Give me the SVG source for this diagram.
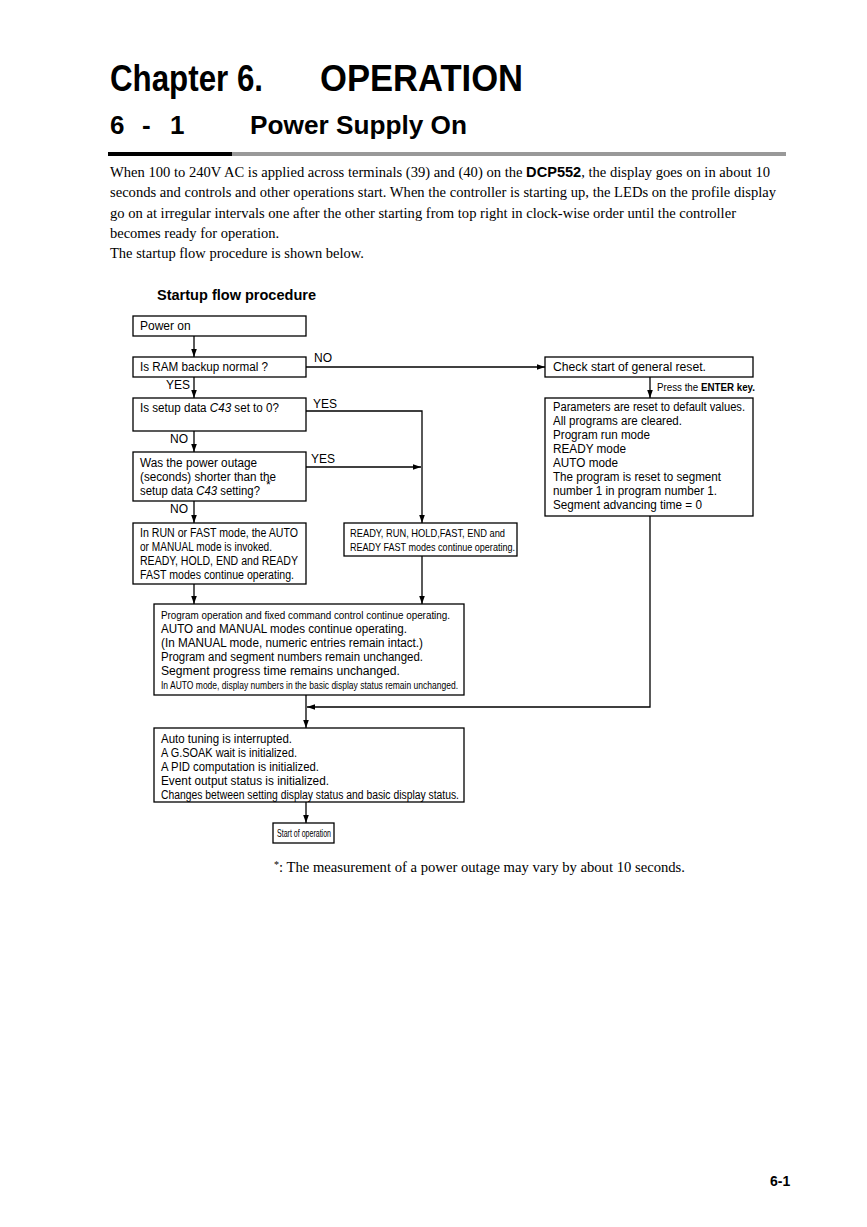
<svg xmlns="http://www.w3.org/2000/svg" width="867" height="1227" viewBox="0 0 867 1227">
<style>
.box{fill:#fff;stroke:#000;stroke-width:1.3}
.t{font-family:"Liberation Sans",Arial,sans-serif;font-size:12px;fill:#000}
.c{font-family:"Liberation Sans",Arial,sans-serif;font-size:11.5px;fill:#000}
.lab{font-family:"Liberation Sans",Arial,sans-serif;font-size:12px;fill:#000}
.body{font-family:"Liberation Serif","Times New Roman",serif;font-size:14.5px;fill:#000}
.h{font-family:"Liberation Sans",Arial,sans-serif;font-weight:bold;fill:#000}
.ln{fill:none;stroke:#000;stroke-width:1.3}
</style>
<defs>
<marker id="ah" viewBox="0 0 10 10" refX="10" refY="5" markerWidth="8" markerHeight="8" markerUnits="userSpaceOnUse" orient="auto">
<path d="M0,1.5 L10,5 L0,8.5 z" fill="#000"/>
</marker>
</defs>
<rect width="867" height="1227" fill="#fff"/>

<text class="h" x="110" y="91" font-size="36" textLength="153" lengthAdjust="spacingAndGlyphs">Chapter 6.</text>
<text class="h" x="320" y="91" font-size="36" textLength="203" lengthAdjust="spacingAndGlyphs">OPERATION</text>
<text class="h" x="110" y="134" font-size="26">6</text>
<text class="h" x="142" y="134" font-size="26">-</text>
<text class="h" x="170" y="134" font-size="26">1</text>
<text class="h" x="250" y="134" font-size="26" textLength="217" lengthAdjust="spacingAndGlyphs">Power Supply On</text>
<rect x="108" y="152" width="124" height="4" fill="#000"/>
<rect x="232" y="152" width="554" height="4" fill="#999"/>

<text class="body" x="110" y="177" textLength="660" lengthAdjust="spacingAndGlyphs">When 100 to 240V AC is applied across terminals (39) and (40) on the <tspan font-family="Liberation Sans,Arial,sans-serif" font-weight="bold">DCP552</tspan>, the display goes on in about 10</text>
<text class="body" x="110" y="197" textLength="666" lengthAdjust="spacingAndGlyphs">seconds and controls and other operations start. When the controller is starting up, the LEDs on the profile display</text>
<text class="body" x="110" y="218" textLength="626" lengthAdjust="spacingAndGlyphs">go on at irregular intervals one after the other starting from top right in clock-wise order until the controller</text>
<text class="body" x="110" y="238">becomes ready for operation.</text>
<text class="body" x="110" y="258">The startup flow procedure is shown below.</text>

<text class="h" x="157" y="300" font-size="14" textLength="159" lengthAdjust="spacingAndGlyphs">Startup flow procedure</text>

<g id="connectors">
<line class="ln" x1="194" y1="336" x2="194" y2="357" marker-end="url(#ah)"/>
<line class="ln" x1="194" y1="377" x2="194" y2="398" marker-end="url(#ah)"/>
<line class="ln" x1="194" y1="431" x2="194" y2="452" marker-end="url(#ah)"/>
<line class="ln" x1="194" y1="501" x2="194" y2="523" marker-end="url(#ah)"/>
<line class="ln" x1="306" y1="367" x2="545" y2="367" marker-end="url(#ah)"/>
<line class="ln" x1="650" y1="377" x2="650" y2="398" marker-end="url(#ah)"/>
<polyline class="ln" points="306,411 422,411 422,523" marker-end="url(#ah)"/>
<line class="ln" x1="306" y1="467" x2="421" y2="467" marker-end="url(#ah)"/>
<line class="ln" x1="194" y1="584" x2="194" y2="604" marker-end="url(#ah)"/>
<line class="ln" x1="422" y1="556" x2="422" y2="604" marker-end="url(#ah)"/>
<polyline class="ln" points="650,516 650,707 307,707" marker-end="url(#ah)"/>
<line class="ln" x1="306" y1="695" x2="306" y2="728" marker-end="url(#ah)"/>
<line class="ln" x1="306" y1="802" x2="306" y2="823" marker-end="url(#ah)"/>
<text class="lab" x="314" y="362">NO</text>
<text class="lab" x="166" y="389">YES</text>
<text class="lab" x="313" y="408">YES</text>
<text class="lab" x="170" y="443">NO</text>
<text class="lab" x="311" y="463">YES</text>
<text class="lab" x="170" y="513">NO</text>
<text class="c" x="657" y="391" font-size="11" textLength="98" lengthAdjust="spacingAndGlyphs">Press the <tspan font-weight="bold">ENTER key.</tspan></text>
</g>

<g id="power-on">
<rect class="box" x="133" y="316" width="173" height="20"/>
<text class="t" x="140" y="330">Power on</text>
</g>
<g id="ram-backup">
<rect class="box" x="133" y="357" width="173" height="20"/>
<text class="t" x="140" y="371" textLength="128" lengthAdjust="spacingAndGlyphs">Is RAM backup normal ?</text>
</g>
<g id="check-reset">
<rect class="box" x="545" y="357" width="208" height="20"/>
<text class="t" x="553" y="371" textLength="153" lengthAdjust="spacingAndGlyphs">Check start of general reset.</text>
</g>
<g id="setup-c43">
<rect class="box" x="133" y="398" width="173" height="33"/>
<text class="t" x="140" y="412" textLength="139" lengthAdjust="spacingAndGlyphs">Is setup data <tspan font-style="italic">C43</tspan> set to 0?</text>
</g>
<g id="params-reset">
<rect class="box" x="545" y="398" width="208" height="118"/>
<text class="t" x="553" y="411" textLength="192" lengthAdjust="spacingAndGlyphs">Parameters are reset to default values.</text>
<text class="t" x="553" y="425" textLength="129" lengthAdjust="spacingAndGlyphs">All programs are cleared.</text>
<text class="t" x="553" y="439" textLength="97" lengthAdjust="spacingAndGlyphs">Program run mode</text>
<text class="t" x="553" y="453" textLength="73" lengthAdjust="spacingAndGlyphs">READY mode</text>
<text class="t" x="553" y="467" textLength="65" lengthAdjust="spacingAndGlyphs">AUTO mode</text>
<text class="t" x="553" y="481" textLength="168" lengthAdjust="spacingAndGlyphs">The program is reset to segment</text>
<text class="t" x="553" y="495" textLength="164" lengthAdjust="spacingAndGlyphs">number 1 in program number 1.</text>
<text class="t" x="553" y="509" textLength="149" lengthAdjust="spacingAndGlyphs">Segment advancing time = 0</text>
</g>
<g id="power-outage">
<rect class="box" x="133" y="452" width="173" height="49"/>
<text class="t" x="140" y="467" textLength="117" lengthAdjust="spacingAndGlyphs">Was the power outage</text>
<text class="t" x="140" y="481" textLength="136" lengthAdjust="spacingAndGlyphs">(seconds) shorter than the</text>
<text class="t" x="140" y="495" textLength="120" lengthAdjust="spacingAndGlyphs">setup data <tspan font-style="italic">C43</tspan> setting?</text>
<text class="t" x="266" y="489" font-size="8">*</text>
</g>
<g id="run-fast">
<rect class="box" x="133" y="523" width="173" height="61"/>
<text class="t" x="140" y="537" textLength="158" lengthAdjust="spacingAndGlyphs">In RUN or FAST mode, the AUTO</text>
<text class="t" x="140" y="551" textLength="132" lengthAdjust="spacingAndGlyphs">or MANUAL mode is invoked.</text>
<text class="t" x="140" y="565" textLength="158" lengthAdjust="spacingAndGlyphs">READY, HOLD, END and READY</text>
<text class="t" x="140" y="579" textLength="154" lengthAdjust="spacingAndGlyphs">FAST modes continue operating.</text>
</g>
<g id="ready-run">
<rect class="box" x="344" y="523" width="173" height="33"/>
<text class="c" x="350" y="537" textLength="155" lengthAdjust="spacingAndGlyphs">READY, RUN, HOLD,FAST,  END and</text>
<text class="c" x="350" y="551" textLength="165" lengthAdjust="spacingAndGlyphs">READY FAST modes continue operating.</text>
</g>
<g id="program-operation">
<rect class="box" x="154" y="604" width="310" height="91"/>
<text class="c" x="161" y="619" textLength="289" lengthAdjust="spacingAndGlyphs">Program operation and fixed command control continue operating.</text>
<text class="t" x="161" y="633" textLength="246" lengthAdjust="spacingAndGlyphs">AUTO and MANUAL modes continue operating.</text>
<text class="t" x="161" y="647" textLength="262" lengthAdjust="spacingAndGlyphs">(In MANUAL mode, numeric entries remain intact.)</text>
<text class="t" x="161" y="661" textLength="262" lengthAdjust="spacingAndGlyphs">Program and segment numbers remain unchanged.</text>
<text class="t" x="161" y="675" textLength="239" lengthAdjust="spacingAndGlyphs">Segment progress time remains unchanged.</text>
<text class="c" x="161" y="689" textLength="297" lengthAdjust="spacingAndGlyphs">In AUTO mode, display numbers in the basic display status remain unchanged.</text>
</g>
<g id="auto-tuning">
<rect class="box" x="154" y="728" width="310" height="74"/>
<text class="t" x="161" y="743" textLength="131" lengthAdjust="spacingAndGlyphs">Auto tuning is interrupted.</text>
<text class="t" x="161" y="757" textLength="136" lengthAdjust="spacingAndGlyphs">A G.SOAK wait is initialized.</text>
<text class="t" x="161" y="771" textLength="158" lengthAdjust="spacingAndGlyphs">A PID computation is initialized.</text>
<text class="t" x="161" y="785" textLength="168" lengthAdjust="spacingAndGlyphs">Event output status is initialized.</text>
<text class="t" x="161" y="799" textLength="298" lengthAdjust="spacingAndGlyphs">Changes between setting display status and basic display status.</text>
</g>
<g id="start-operation">
<rect class="box" x="273" y="823" width="61" height="20"/>
<text class="c" x="277" y="837" font-size="10.5" textLength="54" lengthAdjust="spacingAndGlyphs">Start of operation</text>
</g>

<text class="body" x="274" y="872" textLength="411" lengthAdjust="spacingAndGlyphs"><tspan font-size="10" dy="-4">*</tspan><tspan dy="4">: The measurement of a power outage may vary by about 10 seconds.</tspan></text>
<text class="h" x="770" y="1186" font-size="14">6-1</text>
</svg>
